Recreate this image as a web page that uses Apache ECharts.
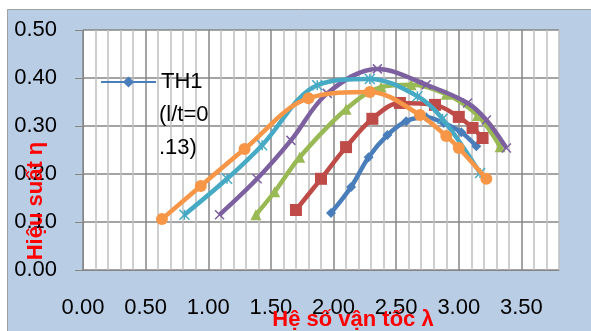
<!DOCTYPE html>
<html><head><meta charset="utf-8">
<script src="https://cdn.jsdelivr.net/npm/echarts@6/dist/echarts.min.js"></script>
<style>html,body{margin:0;padding:0;background:#fff}#c{width:591px;height:331px}</style>
</head><body><div id="c"></div>
<script>
var seriesNames = ['TH1', 'TH2', 'TH3', 'TH4', 'TH5', 'TH6'];
var legendFirst = 'TH1';
var legendRest = '(l/t=0\n.13)';
var xTitle = 'Hệ số vận tốc λ';
var yTitle = 'Hiệu suất η';
var th1 = [[1.98,0.119],[2.14,0.173],[2.28,0.235],[2.43,0.281],[2.58,0.31],[2.74,0.318],[2.88,0.306],[3.02,0.287],[3.14,0.258]];
var th2 = [[1.70,0.125],[1.90,0.19],[2.10,0.256],[2.31,0.315],[2.53,0.348],[2.81,0.344],[3.00,0.319],[3.11,0.296],[3.19,0.275]];
var th3 = [[1.38,0.115],[1.53,0.163],[1.73,0.235],[2.10,0.335],[2.38,0.381],[2.62,0.386],[2.90,0.366],[3.15,0.322],[3.33,0.257]];
var th4 = [[1.09,0.115],[1.39,0.19],[1.66,0.27],[1.95,0.368],[2.35,0.419],[2.74,0.386],[3.07,0.348],[3.22,0.3125],[3.38,0.254]];
var th5 = [[0.81,0.115],[1.15,0.19],[1.43,0.26],[1.87,0.385],[2.29,0.398],[2.67,0.362],[2.87,0.315],[3.17,0.202]];
var th6 = [[0.63,0.106],[0.94,0.175],[1.29,0.252],[1.80,0.358],[2.29,0.371],[2.69,0.323],[2.90,0.279],[3.00,0.254],[3.22,0.19]];
var allData = [th1, th2, th3, th4, th5, th6];
var colors = ['#4a7ebb', '#be4b48', '#98b954', '#7d60a0', '#46aac5', '#f79646'];
var xSym = 'path://M0 0L10 10M10 0L0 10';
var starSym = 'path://M0 0L10 10M10 0L0 10M5 0L5 10';
var symbols = ['diamond', 'rect', 'triangle', xSym, starSym, 'circle'];
var symSizes = [10, 12, 11, 9, 10, 12];

var chart = echarts.init(document.getElementById('c'));
var lab = {fontFamily: 'Liberation Sans', fontSize: 22, color: '#000'};
var ttl = {fontFamily: 'Liberation Sans', fontSize: 22, fontWeight: 'bold', fill: '#ff0000'};
var minorCol = '#bfbfbf', majorCol = '#868686';
chart.setOption({
  animation: false,
  backgroundColor: '#ffffff',
  graphic: [
    {type: 'rect', z: -10, shape: {x: 7.5, y: 9.5, width: 600, height: 340}, style: {fill: '#b9cde5', stroke: '#a0a0a0', lineWidth: 1}},
    {type: 'text', z: 10, x: 353, y: 320, style: Object.assign({text: xTitle, align: 'center', verticalAlign: 'middle'}, ttl)},
    {type: 'text', z: 10, x: 36, y: 201, rotation: Math.PI / 2, style: Object.assign({text: yTitle, align: 'center', verticalAlign: 'middle'}, ttl)},
    {type: 'text', z: 10, x: 159, y: 98.5, style: {text: legendRest, fontFamily: 'Liberation Sans', fontSize: 22, lineHeight: 33, fill: '#000', align: 'left', verticalAlign: 'top'}}
  ],
  grid: {left: 83, top: 30, right: 32, bottom: 61, show: true, backgroundColor: '#ffffff', borderWidth: 0},
  legend: {
    data: ['TH1'], left: 100, top: 65.5, padding: 0, itemWidth: 55, itemHeight: 14, itemGap: 0,
    formatter: function () { return legendFirst; },
    textStyle: {fontFamily: 'Liberation Sans', fontSize: 22, color: '#000', lineHeight: 33}
  },
  xAxis: {
    type: 'value', min: 0, max: 3.8, interval: 0.1,
    axisLine: {show: true, lineStyle: {color: majorCol}},
    axisTick: {show: false},
    axisLabel: Object.assign({margin: 27, formatter: function (v) {
      var r = Math.round(v * 10);
      return (r % 5 === 0 && r <= 35) ? v.toFixed(2) : '';
    }}, lab),
    splitLine: {show: true, lineStyle: {color: [majorCol, minorCol, minorCol, minorCol, minorCol], width: 1.5}}
  },
  yAxis: {
    type: 'value', min: 0, max: 0.5, interval: 0.1,
    axisLine: {show: true, lineStyle: {color: majorCol}},
    axisTick: {show: true, inside: false, length: 8, lineStyle: {color: majorCol}},
    axisLabel: Object.assign({margin: 26, formatter: function (v) { return v.toFixed(2); }}, lab),
    splitLine: {show: true, lineStyle: {color: majorCol, width: 1.5}}
  },
  series: seriesNames.map(function (n, i) {
    return {
      name: n, type: 'line', data: allData[i], smooth: 0.35, z: 3 + i,
      symbol: symbols[i], symbolSize: symSizes[i], showAllSymbol: true,
      lineStyle: {color: colors[i], width: 4.5},
      itemStyle: {color: colors[i], borderColor: colors[i], borderWidth: (i === 3 || i === 4) ? 1.5 : 0}
    };
  })
});
</script></body></html>
